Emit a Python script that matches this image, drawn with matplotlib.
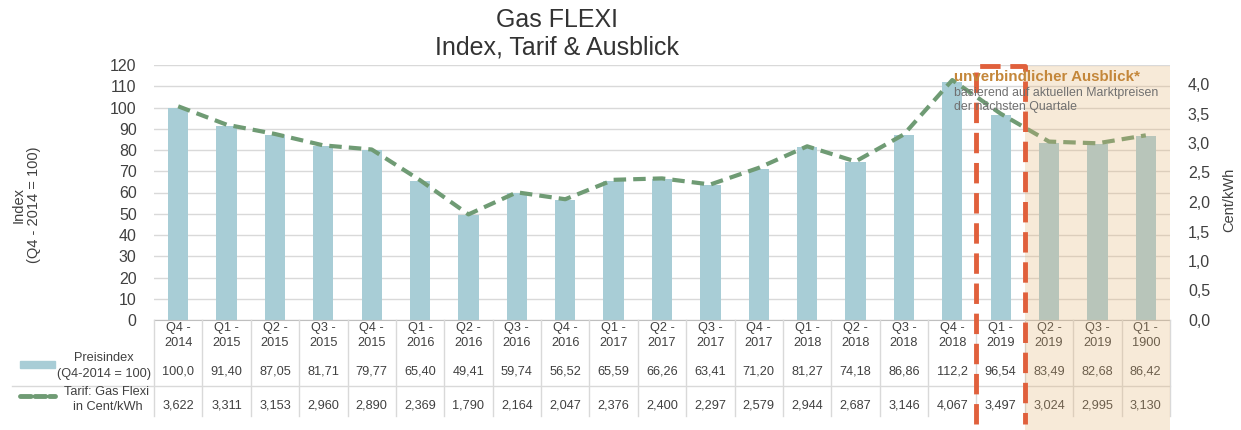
import numpy as np
import matplotlib
matplotlib.use("Agg")
import matplotlib.pyplot as plt
from matplotlib.transforms import blended_transform_factory
from matplotlib.patches import Rectangle
from matplotlib.lines import Line2D

plt.rcParams['font.family'] = ['Liberation Sans', 'DejaVu Sans']

quarters = ["Q4", "Q1", "Q2", "Q3", "Q4", "Q1", "Q2", "Q3", "Q4", "Q1", "Q2",
            "Q3", "Q4", "Q1", "Q2", "Q3", "Q4", "Q1", "Q2", "Q3", "Q1"]
years = ["2014", "2015", "2015", "2015", "2015", "2016", "2016", "2016", "2016",
         "2017", "2017", "2017", "2017", "2018", "2018", "2018", "2018", "2019",
         "2019", "2019", "1900"]
preisindex = [100.0, 91.40, 87.05, 81.71, 79.77, 65.40, 49.41, 59.74, 56.52, 65.59,
              66.26, 63.41, 71.20, 81.27, 74.18, 86.86, 112.2, 96.54, 83.49, 82.68, 86.42]
tarif = [3.622, 3.311, 3.153, 2.960, 2.890, 2.369, 1.790, 2.164, 2.047, 2.376,
         2.400, 2.297, 2.579, 2.944, 2.687, 3.146, 4.067, 3.497, 3.024, 2.995, 3.130]
current_idx = 17  # Q1 - 2019, framed in red; following columns are forecast

W, H = 1241, 430
fig = plt.figure(figsize=(W / 100, H / 100), dpi=100)


def fx(px):
    return px / W


def fy(py):
    return 1 - py / H


bar_col = '#a8cdd6'
line_col = '#6f9b74'
txt_col = '#404040'
grid_col = '#d9d9d9'
tsize = 9.2

ax = fig.add_axes([fx(154), fy(320), fx(1170) - fx(154), fy(65) - fy(320)])
x = np.arange(len(quarters))
ax.bar(x, preisindex, width=0.42, color=bar_col, zorder=2)
ax.set_xlim(-0.5, len(quarters) - 0.5)
ax.set_ylim(0, 120)
ax.set_yticks(range(0, 121, 10))
ax.grid(axis='y', color=grid_col, lw=1)
ax.set_axisbelow(True)

ax2 = ax.twinx()
ax2.plot(x, tarif, color=line_col, lw=3, dashes=(3, 1.7), zorder=3)
ax2.set_ylim(0, 255 / 59)
ax2.set_yticks(np.arange(0, 4.01, 0.5))
ax2.set_yticklabels([f"{v:.1f}".replace('.', ',') for v in np.arange(0, 4.01, 0.5)])
for s in ax2.spines.values():
    s.set_visible(False)
ax2.tick_params(axis='y', right=False, labelsize=11.5, labelcolor=txt_col, pad=9.4)

# twinx turns the left ticks back on, so style ax after it
for s in ['top', 'left', 'right']:
    ax.spines[s].set_visible(False)
ax.spines['bottom'].set_color('#bfbfbf')
ax.tick_params(axis='x', bottom=False, labelbottom=False)
ax.tick_params(axis='y', left=False, right=False, labelsize=11.5, labelcolor=txt_col, pad=9)

# axis titles
fig.text(fx(26), fy(205), "Index\n(Q4 - 2014 = 100)", rotation=90, ha='center',
         va='center', fontsize=10.5, color=txt_col, linespacing=1.1)
fig.text(fx(1229), fy(200), "Cent/kWh", rotation=90, ha='center', va='center',
         fontsize=10.5, color=txt_col)

# title
fig.text(fx(557), fy(20), "Gas FLEXI", ha='center', va='center', fontsize=18, color='#333333')
fig.text(fx(557), fy(48), "Index, Tarif & Ausblick", ha='center', va='center',
         fontsize=18, color='#333333')

# data table under the chart
tr = blended_transform_factory(ax.transData, fig.transFigure)
for i in range(len(quarters)):
    fig.text(i, fy(328), quarters[i] + " -", transform=tr, ha='center', va='center',
             fontsize=tsize, color=txt_col)
    fig.text(i, fy(343), years[i], transform=tr, ha='center', va='center',
             fontsize=tsize, color=txt_col)
    p = preisindex[i]
    ptxt = f"{p:.1f}" if p >= 100 else f"{p:.2f}"
    fig.text(i, fy(371), ptxt.replace('.', ','), transform=tr, ha='center', va='center',
             fontsize=tsize, color=txt_col)
    fig.text(i, fy(405), f"{tarif[i]:.3f}".replace('.', ','), transform=tr, ha='center',
             va='center', fontsize=tsize, color=txt_col)

for b in np.arange(-0.5, len(quarters), 1.0):
    fig.add_artist(Line2D([b, b], [fy(320), fy(416)], transform=tr, color=grid_col, lw=1))
fig.add_artist(Line2D([fx(12), fx(1170)], [fy(386), fy(386)], color=grid_col, lw=1))

# row legend
fig.add_artist(Rectangle((fx(20), fy(368)), fx(35), fy(361) - fy(368), color=bar_col))
fig.text(fx(104), fy(358), "Preisindex", ha='center', va='center', fontsize=tsize, color=txt_col)
fig.text(fx(104), fy(374), "(Q4-2014 = 100)", ha='center', va='center', fontsize=tsize, color=txt_col)
fig.add_artist(Line2D([fx(20), fx(55)], [fy(396), fy(396)], color=line_col, lw=3.5,
                      dashes=(2.2, 0.8), solid_capstyle='round', dash_capstyle='round'))
fig.text(fx(106), fy(392), "Tarif: Gas Flexi", ha='center', va='center', fontsize=tsize, color=txt_col)
fig.text(fx(108), fy(407), "in Cent/kWh", ha='center', va='center', fontsize=tsize, color=txt_col)

# forecast shading
fc_start = current_idx + 0.5
fig.add_artist(Rectangle((fc_start, 0), len(quarters) - 0.5 - fc_start, fy(66),
                         transform=tr, facecolor='#e5b36f', alpha=0.27, lw=0, zorder=5))

# red dashed frame around current quarter
red = '#e0603c'
xl, xr = current_idx - 0.5, current_idx + 0.5
fig.add_artist(Line2D([xl, xl, xr, xr], [fy(424), fy(66), fy(66), fy(424)], transform=tr,
                      color=red, lw=3.5, dashes=(4.2, 2), zorder=6))

# outlook annotation
fig.text(fx(954), fy(77), "unverbindlicher Ausblick*", ha='left', va='center',
         fontsize=10.9, fontweight='bold', color='#c4873a', zorder=7)
fig.text(fx(954), fy(93), "basierend auf aktuellen Marktpreisen", ha='left', va='center',
         fontsize=8.9, color='#707070', zorder=7)
fig.text(fx(954), fy(107), "der nächsten Quartale", ha='left', va='center',
         fontsize=8.9, color='#707070', zorder=7)

fig.savefig("out.png", dpi=100)
